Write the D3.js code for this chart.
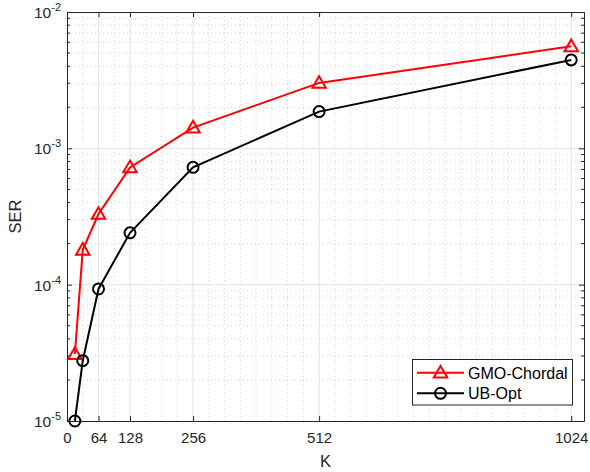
<!DOCTYPE html>
<html>
<head>
<meta charset="utf-8">
<script src="https://cdn.jsdelivr.net/npm/d3@7"></script>
<style>
  body { margin: 0; background: #fff; }
  svg { display: block; font-family: "Liberation Sans", Arial, sans-serif; }
</style>
</head>
<body>
<svg id="chart" width="590" height="472"></svg>
<script>
// data
const kValues = [16, 32, 64, 128, 256, 512, 1024];
const serGmo = [3.1e-5, 1.8e-4, 3.3e-4, 7.25e-4, 1.42e-3, 3.02e-3, 5.6e-3];
const serUb = [1.0e-5, 2.77e-5, 9.3e-5, 2.4e-4, 7.25e-4, 1.86e-3, 4.45e-3];
const xTicks = [0, 64, 128, 256, 512, 1024];
const yTicks = [1e-5, 1e-4, 1e-3, 1e-2];
const seriesNames = ["GMO-Chordal", "UB-Opt"];

const svg = d3.select("#chart")
const margin = {top: 12, right: 6, bottom: 51, left: 67}
const width = 590, height = 472
const axisColor = "#262626"

let x = d3.scaleLinear()
    .domain([0, 1050])
    .range([margin.left, width - margin.right])
let y = d3.scaleLog()
    .domain([1e-5, 1e-2])
    .range([height - margin.bottom, margin.top])

// minor grid
let xMinor = d3.range(32, 1050, 32).filter(v => !xTicks.includes(v))
let yMinor = []
for (let e = -5; e < -2; e++) {
    for (let m = 2; m <= 9; m++) yMinor.push(m * Math.pow(10, e))
}
const grid = svg.append("g")
grid.selectAll(".xminor").data(xMinor).join("line")
    .attr("x1", d => x(d)).attr("x2", d => x(d))
    .attr("y1", y(1e-5)).attr("y2", y(1e-2))
    .attr("stroke", "#c8c8c8").attr("stroke-width", 0.8)
    .attr("stroke-dasharray", "1,3")
grid.selectAll(".yminor").data(yMinor).join("line")
    .attr("x1", x(0)).attr("x2", x(1050))
    .attr("y1", d => y(d)).attr("y2", d => y(d))
    .attr("stroke", "#c8c8c8").attr("stroke-width", 0.8)
    .attr("stroke-dasharray", "1,3")
grid.selectAll(".xmajor").data(xTicks.slice(1)).join("line")
    .attr("x1", d => x(d)).attr("x2", d => x(d))
    .attr("y1", y(1e-5)).attr("y2", y(1e-2))
    .attr("stroke", "#e3e3e3").attr("stroke-width", 1)
grid.selectAll(".ymajor").data(yTicks.slice(1, -1)).join("line")
    .attr("x1", x(0)).attr("x2", x(1050))
    .attr("y1", d => y(d)).attr("y2", d => y(d))
    .attr("stroke", "#e3e3e3").attr("stroke-width", 1)

// axes (ticks pointing inwards, box on)
let xAxis = g => g
    .attr("transform", `translate(0,${height - margin.bottom})`)
    .call(d3.axisBottom(x).tickValues(xTicks).tickFormat(d3.format("d"))
        .tickSizeInner(-5).tickSizeOuter(0).tickPadding(11))
let xAxisTop = g => g
    .attr("transform", `translate(0,${margin.top})`)
    .call(d3.axisTop(x).tickValues(xTicks).tickSizeInner(-5).tickSizeOuter(0).tickFormat(""))
let yAxis = g => g
    .attr("transform", `translate(${margin.left},0)`)
    .call(d3.axisLeft(y).tickValues(yTicks).tickSizeInner(-5).tickSizeOuter(0).tickPadding(8).tickFormat(""))
let yAxisRight = g => g
    .attr("transform", `translate(${width - margin.right},0)`)
    .call(d3.axisRight(y).tickValues(yTicks).tickSizeInner(-5).tickSizeOuter(0).tickFormat(""))

for (const ax of [xAxis, xAxisTop, yAxis, yAxisRight]) {
    svg.append("g").call(ax)
        .attr("font-size", 15)
        .attr("font-family", null)
        .call(g => g.select(".domain").attr("stroke", axisColor).attr("stroke-width", 1))
        .call(g => g.selectAll(".tick line").attr("stroke", axisColor))
        .call(g => g.selectAll(".tick text").attr("fill", axisColor))
}

// minor y ticks on both sides
svg.append("g").selectAll("line").data(yMinor).join("line")
    .attr("x1", x(0)).attr("x2", x(0) + 3)
    .attr("y1", d => y(d)).attr("y2", d => y(d))
    .attr("stroke", axisColor)
svg.append("g").selectAll("line").data(yMinor).join("line")
    .attr("x1", x(1050)).attr("x2", x(1050) - 3)
    .attr("y1", d => y(d)).attr("y2", d => y(d))
    .attr("stroke", axisColor)

// y tick labels as 10^n
const yLab = svg.append("g").attr("fill", axisColor).attr("text-anchor", "end")
    .selectAll("text").data(yTicks).join("text")
    .attr("x", margin.left - 6)
    .attr("y", d => y(d) + 6)
    .attr("font-size", 15.5)
yLab.append("tspan").text("10")
yLab.append("tspan").attr("dy", -7).attr("font-size", 11)
    .text(d => "-" + Math.round(-Math.log10(d)))

// axis titles
svg.append("text")
    .attr("x", (x(0) + x(1050)) / 2).attr("y", 467)
    .attr("text-anchor", "middle").attr("font-size", 16.5).attr("fill", axisColor)
    .text("K")
svg.append("text")
    .attr("transform", `translate(21,${(y(1e-5) + y(1e-2)) / 2}) rotate(-90)`)
    .attr("text-anchor", "middle").attr("font-size", 16.5).attr("fill", axisColor)
    .text("SER")

// series
const series = [
    {name: seriesNames[0], values: serGmo, color: "#ff0000", marker: "triangle"},
    {name: seriesNames[1], values: serUb, color: "#000000", marker: "circle"}
]
const tri = d3.symbol().type(d3.symbolTriangle).size(78)
function drawMarker(g, s, cx, cy) {
    if (s.marker === "triangle") {
        g.append("path").attr("d", tri())
            .attr("transform", `translate(${cx},${cy + 1})`)
            .attr("fill", "none").attr("stroke", s.color).attr("stroke-width", 2)
    } else {
        g.append("circle").attr("cx", cx).attr("cy", cy).attr("r", 5.5)
            .attr("fill", "none").attr("stroke", s.color).attr("stroke-width", 2)
    }
}
let line = d3.line().x(d => x(d[0])).y(d => y(d[1]))
for (const s of series) {
    const pts = kValues.map((k, i) => [k, s.values[i]])
    const g = svg.append("g")
    g.append("path").datum(pts).attr("d", line)
        .attr("fill", "none").attr("stroke", s.color).attr("stroke-width", 2)
    pts.forEach(p => drawMarker(g, s, x(p[0]), y(p[1])))
}

// legend
const lg = svg.append("g")
lg.append("rect").attr("x", 412.5).attr("y", 359.5).attr("width", 160).attr("height", 45.5)
    .attr("fill", "#fff").attr("stroke", axisColor).attr("stroke-width", 1)
series.forEach((s, i) => {
    const cy = 372.7 + i * 20.6
    lg.append("line").attr("x1", 417).attr("x2", 464).attr("y1", cy).attr("y2", cy)
        .attr("stroke", s.color).attr("stroke-width", 2)
    drawMarker(lg, s, 440.5, cy)
    lg.append("text").attr("x", 468).attr("y", cy + 5.8).attr("font-size", 16)
        .attr("fill", "#000").text(s.name)
})
</script>
</body>
</html>
